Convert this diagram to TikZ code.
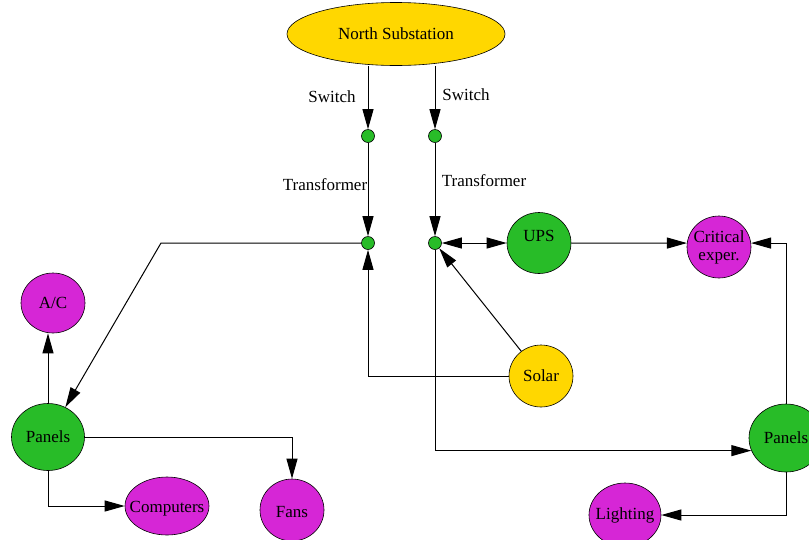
\documentclass[tikz,border=0pt]{standalone}
\usepackage{fontspec}
\setmainfont{Liberation Serif}
\usetikzlibrary{arrows.meta,shapes.geometric}
\definecolor{gold}{RGB}{255,215,0}
\definecolor{leaf}{RGB}{40,188,40}
\definecolor{plum}{RGB}{214,38,214}
\begin{document}
\begin{tikzpicture}[x=1pt,y=-1pt,font=\fontsize{17}{18}\selectfont,
    >={Triangle[length=20pt,width=11pt]},
    arr/.style={line width=1pt,->},
    both/.style={line width=1pt,<->},
    dot/.style={circle,draw,fill=leaf,minimum size=13pt,inner sep=0pt,line width=0.6pt},
    blob/.style={ellipse,draw,line width=0.6pt,inner sep=0pt},
    src/.style={blob,fill=gold},
    hub/.style={blob,fill=leaf},
    sink/.style={blob,fill=plum},
    lbl/.style={inner sep=0pt}]
    \clip (0,0) rectangle (809,539);
    % sources and buses
    \node[src,minimum width=218,minimum height=63,label=center:North Substation] (north) at (396,34) {};
    \node[dot] (lsw) at (368,136) {};
    \node[dot] (rsw) at (435,136) {};
    \node[dot] (ltr) at (368,243) {};
    \node[dot] (rtr) at (435,243) {};
    \node[src,minimum width=64,minimum height=62,label=center:Solar] (solar) at (541,376) {};
    \node[hub,minimum width=64,minimum height=61,label={[yshift=7pt]center:UPS}] (ups) at (539,243) {};
    \node[hub,minimum width=73,minimum height=67,label=center:Panels] (lpanels) at (48,437) {};
    \node[hub,minimum width=74,minimum height=68,label=center:Panels] (rpanels) at (786,438) {};
    % loads
    \node[sink,minimum width=64,minimum height=60,label=center:A/C] (ac) at (53,303) {};
    \node[sink,minimum width=84,minimum height=58,label={[yshift=-3pt]center:Computers}] (comp) at (167,506) {};
    \node[sink,minimum width=64,minimum height=62,label={[yshift=-2pt]center:Fans}] (fans) at (292,510) {};
    \node[sink,minimum width=64,minimum height=62,label={[align=center]center:Critical\\exper.}] (crit) at (719,247) {};
    \node[sink,minimum width=72,minimum height=64,label=center:Lighting] (light) at (625,515) {};
    \coordinate (bendL) at (161,243);
    % edge labels
    \node[lbl] (swL) at (332,97) {Switch};
    \node[lbl] (swR) at (466,95) {Switch};
    \node[lbl] (tfL) at (325,185) {Transformer};
    \node[lbl] (tfR) at (484,181) {Transformer};
    % connectors
    \draw[arr] (lsw |- north.south) -- (lsw);
    \draw[arr] (rsw |- north.south) -- (rsw);
    \draw[arr] (lsw) -- (ltr);
    \draw[arr] (rsw) -- (rtr);
    \draw[arr] (ltr) -- (bendL) -- (lpanels);
    \draw[arr] (solar) -| (ltr);
    \draw[arr] (solar) -- (rtr);
    \draw[both] (rtr) -- (ups);
    \draw[arr] (rtr) |- (rpanels.200);
    \draw[arr] (ups) -- (crit.173);
    \draw[arr] (rpanels) |- (crit.7);
    \draw[arr] (rpanels) |- (light);
    \draw[arr] (lpanels) -- (lpanels |- ac.south);
    \draw[arr] (lpanels) -| (fans);
    \draw[arr] (lpanels) |- (comp);
\end{tikzpicture}
\end{document}
